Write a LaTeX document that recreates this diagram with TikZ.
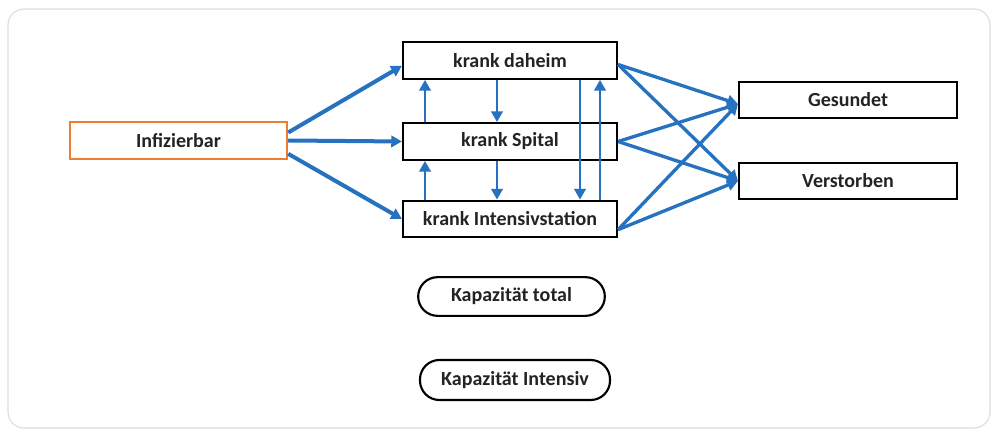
\documentclass[tikz,border=0pt]{standalone}
\usepackage{fontspec}
\setmainfont{Carlito}
\usetikzlibrary{arrows.meta}
\definecolor{pfeil}{RGB}{38,113,192}
\definecolor{orangerand}{RGB}{237,125,49}
\definecolor{schrift}{RGB}{35,35,35}
\tikzset{
	box/.style={draw=black,line width=1.6pt,fill=white,minimum height=27.5pt,inner sep=0pt,
		text=schrift,font=\fontsize{15}{17}\selectfont\bfseries},
	kap/.style={box,rounded corners=14.5pt},
	arr/.style={draw=pfeil,line width=2.5pt,-{Triangle[length=8pt,width=8.5pt]}},
}
\begin{document}
\begin{tikzpicture}[x=.75pt,y=-.75pt]
	\useasboundingbox (0,0) rectangle (998,434);
	\draw[rounded corners=12pt,draw=black!14,line width=.8pt] (8,9) rectangle (990,428);
	% Knoten
	\node[box,draw=orangerand,minimum width=163pt] (inf) at (178.5,140.5) {Infizierbar};
	\node[box,minimum width=160.5pt] (dah) at (510,60.5) {krank daheim};
	\node[box,minimum width=160.5pt] (spi) at (510,141.5) {krank Spital};
	\node[box,minimum width=160.5pt] (int) at (510,219) {krank Intensivstation};
	\node[box,minimum width=163.5pt] (ges) at (848,100) {Gesundet};
	\node[box,minimum width=163.5pt] (ver) at (848,181) {Verstorben};
	\node[kap,minimum width=140pt,minimum height=29pt] (kt) at (511.5,296.5) {Kapazit\"at total};
	\node[kap,minimum width=142.5pt,minimum height=30pt] (ki) at (515,380) {Kapazit\"at Intensiv};
	% Spalten der senkrechten Pfeile
	\path (425,0) coordinate (c1) (497,0) coordinate (c2) (580,0) coordinate (c3) (600,0) coordinate (c4);
	% Pfeile
	\draw[arr,line width=3pt] ([yshift=6pt]inf.east) -- ([yshift=-4pt]dah.west);
	\draw[arr,line width=3pt] (inf.east) -- (spi.west);
	\draw[arr,line width=3pt] ([yshift=-10pt]inf.east) -- (int.west);
	\foreach \a/\b/\c in {spi.north/dah.south/c1,int.north/spi.south/c1,dah.south/spi.north/c2,
		spi.south/int.north/c2,dah.south/int.north/c3,int.north/dah.south/c4}
		\draw[arr,line width=2.2pt] (\a -| \c) -- (\b -| \c);
	\foreach \a/\s in {dah/-3,spi/0,int/-8}{
		\draw[arr] ([yshift=\s pt]\a.east) -- ([yshift=-3pt]ges.west);
		\draw[arr] ([yshift=\s pt]\a.east) -- (ver.west);
	}
\end{tikzpicture}
\end{document}
